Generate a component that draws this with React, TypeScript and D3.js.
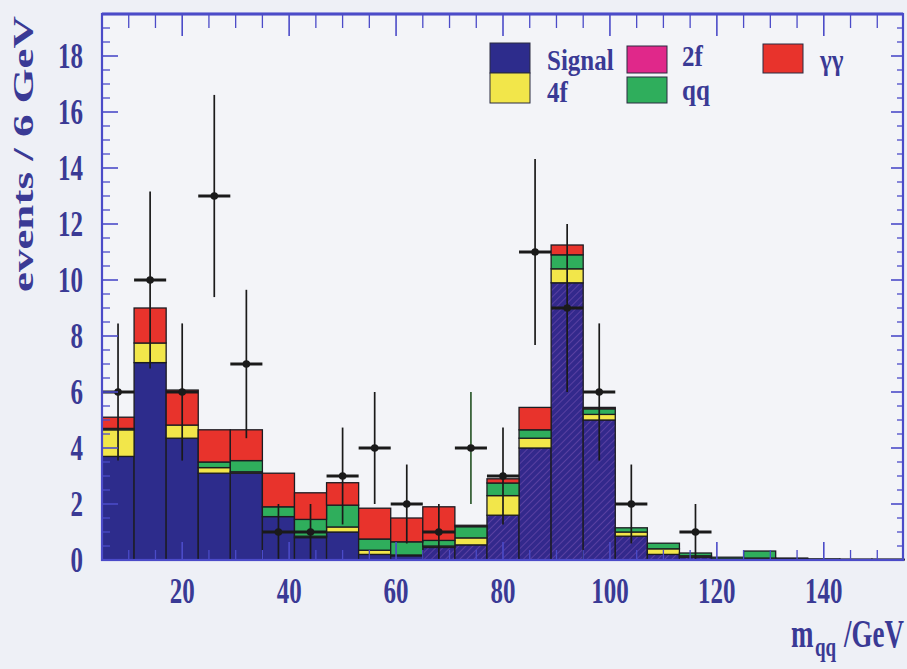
import React from "react";
import * as d3 from "d3";

const binEdges = d3.range(5, 156, 6); // 5..155
const signal = [3.7, 7.05, 4.35, 3.1, 3.1, 1.55, 0.8, 1.0, 0.2, 0.15, 0.45, 0.54, 1.6, 4.0, 9.9, 5.0, 0.85, 0.2, 0.1, 0.02, 0.02, 0.02, 0.01, 0.01, 0.01];
const fourF = [0.95, 0.7, 0.47, 0.2, 0.05, 0, 0.05, 0.18, 0.15, 0.03, 0.05, 0.25, 0.7, 0.35, 0.5, 0.2, 0.15, 0.2, 0.05, 0.02, 0.05, 0.02, 0.01, 0.01, 0.01];
const qq = [0.05, 0, 0, 0.2, 0.4, 0.35, 0.6, 0.78, 0.4, 0.47, 0.2, 0.4, 0.45, 0.3, 0.5, 0.2, 0.15, 0.2, 0.1, 0.06, 0.25, 0.03, 0.02, 0.01, 0.01];
const twoF = [0, 0, 0, 0, 0, 0, 0, 0, 0, 0, 0, 0, 0, 0, 0, 0, 0, 0, 0, 0, 0, 0, 0, 0, 0];
const gammaGamma = [0.4, 1.25, 1.25, 1.15, 1.1, 1.2, 0.95, 0.8, 1.1, 0.85, 1.2, 0.05, 0.15, 0.8, 0.35, 0.05, 0, 0, 0, 0, 0, 0, 0, 0, 0];
const dataCounts = [6, 10, 6, 13, 7, 1, 1, 3, 4, 2, 1, 4, 3, 11, 9, 6, 2, 0, 1, 0, 0, 0, 0, 0, 0];
const dataErrors = [2.45, 3.16, 2.45, 3.61, 2.65, 1, 1, 1.73, 2, 1.41, 1, 2, 1.73, 3.32, 3, 2.45, 1.41, 0, 1, 0, 0, 0, 0, 0, 0];
const xTicks = [20, 40, 60, 80, 100, 120, 140];
const yTicks = [0, 2, 4, 6, 8, 10, 12, 14, 16, 18];
const legendLabels = ["Signal", "4f", "2f", "qq", "γγ"];

const keys = ["signal", "fourF", "qq", "twoF", "gg"];
const colors: Record<string, string> = {
  signal: "#2d2c8c",
  fourF: "#f2e64a",
  qq: "#2fae5c",
  twoF: "#e0288a",
  gg: "#e8332c",
};

const FONT = "'Liberation Serif', 'DejaVu Serif', serif";
const TXT = "#3a3a95";
const AX = "#4b4bc8";

export default function App() {
  const W = 907, H = 669;
  const x = d3.scaleLinear().domain([5, 155]).range([102, 904]);
  const y = d3.scaleLinear().domain([0, 19.5]).range([560, 14]);

  const rows = signal.map((_, i) => ({
    i,
    signal: signal[i],
    fourF: fourF[i],
    qq: qq[i],
    twoF: twoF[i],
    gg: gammaGamma[i],
  }));
  const stacked = d3.stack<any>().keys(keys)(rows);

  const xMinor = d3.range(10, 155, 5).filter((v) => v % 20 !== 0);
  const yMinor = d3.range(0, 19.5, 0.5).filter((v) => v % 2 !== 0);

  const sy = 1.45;

  const legendPos = [
    { x: 547, y: 70 },
    { x: 547, y: 102 },
    { x: 682, y: 66 },
    { x: 682, y: 100 },
    { x: 820, y: 70 },
  ];

  return (
    <svg width={W} height={H} style={{ position: "fixed", left: 0, top: 0 }} xmlns="http://www.w3.org/2000/svg">
      <defs>
        <pattern id="hatch" width="5" height="5" patternUnits="userSpaceOnUse" patternTransform="rotate(45)">
          <rect width="5" height="5" fill="#33298c" />
          <line x1="0" y1="0" x2="0" y2="5" stroke="#6246a6" strokeWidth="1.6" />
        </pattern>
      </defs>
      <rect width={W} height={H} fill="#eef0f6" />
      <rect x={102} y={14} width={802} height={546} fill="#f3f4f8" />

      {/* stacked histogram */}
      {stacked.map((layer) => (
        <g key={layer.key}>
          {layer.map((d: any, i: number) => {
            const h = y(d[0]) - y(d[1]);
            if (h <= 0.01) return null;
            const fill = layer.key === "signal" && i >= 10 ? "url(#hatch)" : colors[layer.key];
            return (
              <rect
                key={i}
                x={x(binEdges[i])}
                y={y(d[1])}
                width={x(binEdges[i + 1]) - x(binEdges[i])}
                height={h}
                fill={fill}
                stroke="#1c1c22"
                strokeWidth={1.3}
              />
            );
          })}
        </g>
      ))}

      {/* data points */}
      {dataCounts.map((n, i) => {
        if (n <= 0) return null;
        const cx = x((binEdges[i] + binEdges[i + 1]) / 2);
        const cy = y(n);
        const stroke = i === 11 ? "#2f5a2f" : "#1a1a1a";
        return (
          <g key={i}>
            <line x1={cx} x2={cx} y1={y(n + dataErrors[i])} y2={y(Math.max(0, n - dataErrors[i]))} stroke={stroke} strokeWidth={1.7} />
            <line x1={x(binEdges[i])} x2={x(binEdges[i + 1])} y1={cy} y2={cy} stroke="#1a1a1a" strokeWidth={2.8} />
            <circle cx={cx} cy={cy} r={3.8} fill="#1a1a1a" />
          </g>
        );
      })}

      {/* frame */}
      <rect x={102} y={14} width={801} height={546} fill="none" stroke={AX} strokeWidth={2.2} />
      <line x1={102} x2={903} y1={14} y2={14} stroke={AX} strokeWidth={3} />

      {/* ticks */}
      {xTicks.map((v) => (
        <g key={"tm" + v}>
          <line x1={x(v)} x2={x(v)} y1={14} y2={36} stroke={AX} strokeWidth={1.6} />
          <line x1={x(v)} x2={x(v)} y1={560} y2={542} stroke={AX} strokeWidth={1.6} />
        </g>
      ))}
      {xMinor.map((v) => (
        <g key={"tn" + v}>
          <line x1={x(v)} x2={x(v)} y1={14} y2={28} stroke={AX} strokeWidth={1.3} />
          <line x1={x(v)} x2={x(v)} y1={560} y2={550} stroke={AX} strokeWidth={1.3} />
        </g>
      ))}
      {yTicks.map((v) => (
        <g key={"ym" + v}>
          <line x1={102} x2={118} y1={y(v)} y2={y(v)} stroke={AX} strokeWidth={1.6} />
          <line x1={903} x2={891} y1={y(v)} y2={y(v)} stroke={AX} strokeWidth={1.6} />
        </g>
      ))}
      {yMinor.map((v) => (
        <g key={"yn" + v}>
          <line x1={102} x2={110} y1={y(v)} y2={y(v)} stroke={AX} strokeWidth={1.3} />
          <line x1={903} x2={897} y1={y(v)} y2={y(v)} stroke={AX} strokeWidth={1.3} />
        </g>
      ))}

      {/* tick labels */}
      {yTicks.map((v) => (
        <text
          key={"yl" + v}
          transform={`translate(83,${y(v) + 12}) scale(1,${sy})`}
          textAnchor="end"
          fontFamily={FONT}
          fontWeight="bold"
          fontSize={25}
          fill={TXT}
        >
          {v}
        </text>
      ))}
      {xTicks.map((v) => (
        <text
          key={"xl" + v}
          transform={`translate(${x(v)},603) scale(1,${sy})`}
          textAnchor="middle"
          fontFamily={FONT}
          fontWeight="bold"
          fontSize={25}
          fill={TXT}
        >
          {v}
        </text>
      ))}

      {/* axis titles */}
      <text
        transform={`translate(33,154) rotate(-90) scale(1.5,1)`}
        textAnchor="middle"
        fontFamily={FONT}
        fontWeight="bold"
        fontSize={30}
        fill={TXT}
      >
        events / 6 GeV
      </text>
      <text transform={`translate(791,647) scale(1,${sy})`} fontFamily={FONT} fontWeight="bold" fontSize={27} fill={TXT}>
        m
      </text>
      <text transform={`translate(815,656) scale(1,${sy})`} fontFamily={FONT} fontWeight="bold" fontSize={19} fill={TXT}>
        qq
      </text>
      <text transform={`translate(904,647) scale(1,${sy})`} textAnchor="end" fontFamily={FONT} fontWeight="bold" fontSize={27} fill={TXT}>
        /GeV
      </text>

      {/* legend */}
      <g stroke="#2a2a40" strokeWidth={1}>
        <rect x={490} y={43} width={40} height={30} fill={colors.signal} />
        <rect x={490} y={73} width={40} height={30} fill={colors.fourF} />
        <rect x={627} y={46} width={40} height={27} fill={colors.twoF} />
        <rect x={627} y={77} width={40} height={26} fill={colors.qq} />
        <rect x={763} y={44} width={40} height={29} fill={colors.gg} />
      </g>
      {legendLabels.map((t, k) => (
        <text
          key={t}
          transform={`translate(${legendPos[k].x},${legendPos[k].y}) scale(1,1.22)`}
          fontFamily={FONT}
          fontWeight="bold"
          fontSize={25}
          fill={TXT}
        >
          {t}
        </text>
      ))}
    </svg>
  );
}
